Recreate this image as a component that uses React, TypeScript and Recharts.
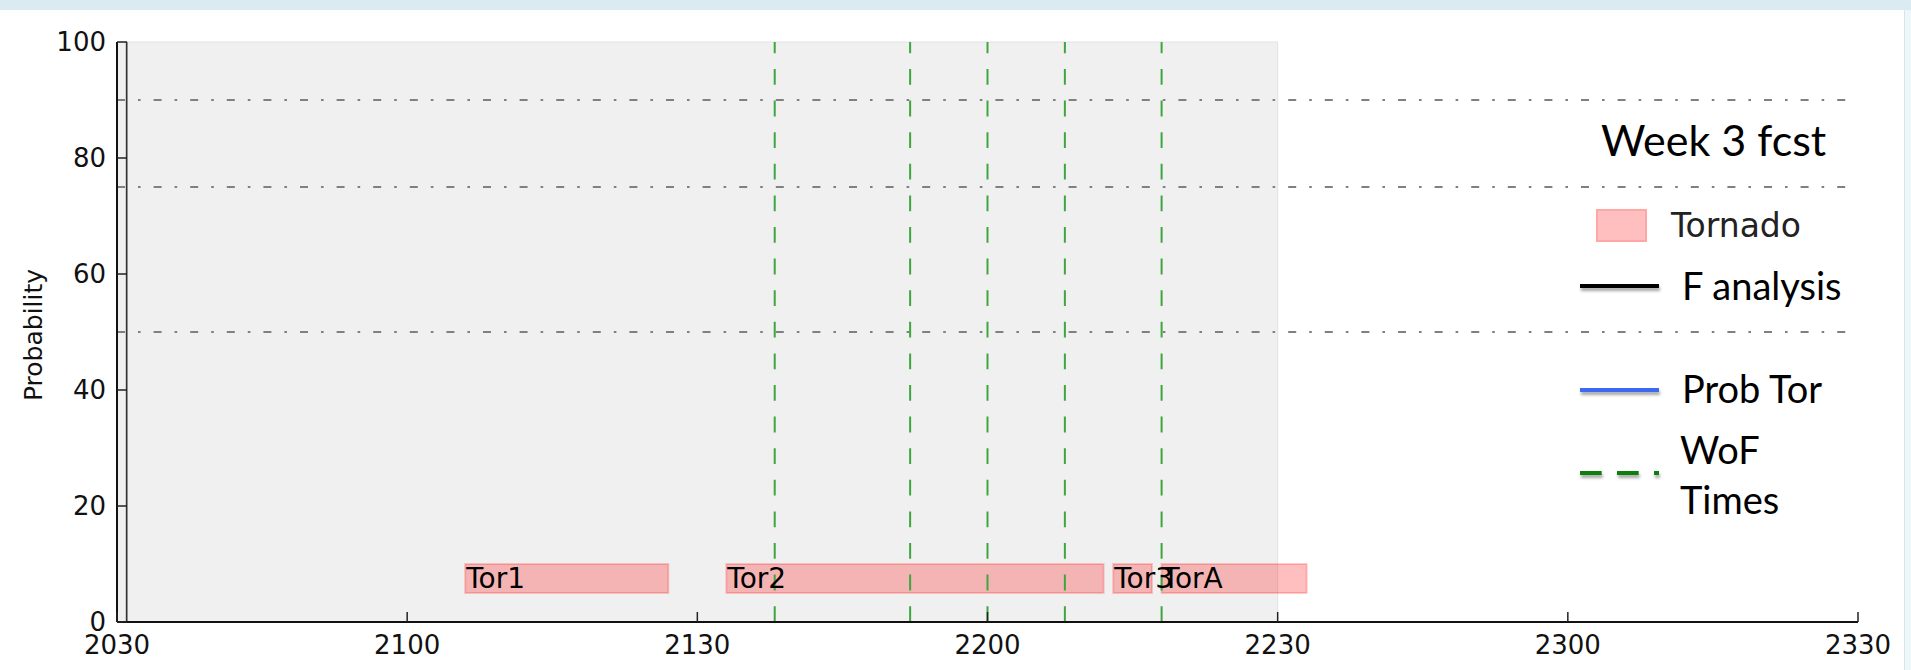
import React from 'react'
import { ComposedChart, Line, XAxis, YAxis, ReferenceArea } from 'recharts'

const W = 1911
const H = 670
const TICK_FONT = 'DejaVu Sans'
const NOTE_FONT = 'Lato'

// times are minutes after midnight (20:30 .. 23:30)
const xTicks = [1230, 1260, 1290, 1320, 1350, 1380, 1410]
const yTicks = [0, 20, 40, 60, 80, 100]
const thresholds = [50, 75, 90]
const wofTimes = [1298, 1312, 1320, 1328, 1338]
const fAnalysisTime = 1231
const shadeStart = 1230
const shadeEnd = 1350

const torNames = ['Tor1', 'Tor2', 'Tor3', 'TorA']
const torStart = [1266, 1293, 1333, 1338]
const torEnd = [1287, 1332, 1337, 1353]
const torLow = 5
const torHigh = 10

const fmt = (m: number) => `${Math.floor(m / 60)}${String(m % 60).padStart(2, '0')}`

const vLine = (t: number) => [{ t, p: 0 }, { t, p: 100 }]
const hLine = (p: number) => [{ t: xTicks[0], p }, { t: xTicks[xTicks.length - 1], p }]

const BottomTick = (props: any) => {
  const { x, y, payload } = props
  return (
    <g>
      <line x1={x} y1={y} x2={x} y2={y - 10} stroke="#222" strokeWidth={1.5} />
      <text x={x} y={y + 32} textAnchor="middle" fontSize={26} fontFamily={TICK_FONT} fill="#111">
        {fmt(payload.value)}
      </text>
    </g>
  )
}

const TopTick = (props: any) => {
  const { x, y } = props
  return <line x1={x} y1={y} x2={x} y2={y + 10} stroke="#222" strokeWidth={1.5} />
}

const LeftTick = (props: any) => {
  const { x, y, payload } = props
  return (
    <g>
      <line x1={x} y1={y} x2={x + 10} y2={y} stroke="#222" strokeWidth={1.5} />
      <text x={x - 11} y={y} dy="0.36em" textAnchor="end" fontSize={26} fontFamily={TICK_FONT} fill="#111">
        {payload.value}
      </text>
    </g>
  )
}

const RightTick = (props: any) => {
  const { x, y } = props
  return <line x1={x} y1={y} x2={x - 10} y2={y} stroke="#222" strokeWidth={1.5} />
}

const YLabel = (props: any) => {
  const vb = props.viewBox
  const cx = vb.x + 41.5
  const cy = vb.y + vb.height / 2 + 3
  return (
    <text x={cx} y={cy} transform={`rotate(-90, ${cx}, ${cy})`} textAnchor="middle" fontSize={25} fontFamily={TICK_FONT} fill="#111">
      Probability
    </text>
  )
}

const legendNames = ['Week 3 fcst', 'Tornado', 'F analysis', 'Prob Tor', 'WoF', 'Times']

function Notes() {
  return (
    <svg width={W} height={H} style={{ position: 'absolute', left: 0, top: 0, pointerEvents: 'none' }}>
      <defs>
        <filter id="sh" filterUnits="userSpaceOnUse" x={1500} y={200} width={300} height={320}>
          <feDropShadow dx={1} dy={3} stdDeviation={1.5} floodColor="#000" floodOpacity={0.35} />
        </filter>
      </defs>
      <text x={1601} y={156} fontFamily={NOTE_FONT} fontSize={43} fill="#000">{legendNames[0]}</text>
      <rect x={1597} y={210} width={49} height={31} fill="#ffbfbf" stroke="#ffa6a6" strokeWidth={2} />
      <text x={1671} y={237} fontFamily={TICK_FONT} fontSize={33} fill="#222">{legendNames[1]}</text>
      <line x1={1580} x2={1659} y1={286} y2={286} stroke="#000" strokeWidth={4} filter="url(#sh)" />
      <text x={1682} y={300} fontFamily={NOTE_FONT} fontSize={38} fill="#000">{legendNames[2]}</text>
      <line x1={1580} x2={1659} y1={390} y2={390} stroke="#3c68f2" strokeWidth={4} filter="url(#sh)" />
      <text x={1682} y={403} fontFamily={NOTE_FONT} fontSize={38} fill="#000">{legendNames[3]}</text>
      <line x1={1580} x2={1659} y1={473} y2={473} stroke="#0b7f0b" strokeWidth={4} strokeDasharray="21.7 15.3" filter="url(#sh)" />
      <text x={1680} y={464} fontFamily={NOTE_FONT} fontSize={38} fill="#000">{legendNames[4]}</text>
      <text x={1680} y={514} fontFamily={NOTE_FONT} fontSize={38} fill="#000">{legendNames[5]}</text>
    </svg>
  )
}

export default function App() {
  return (
    <div style={{ position: 'relative', width: W, height: H, background: '#fff', overflow: 'hidden' }}>
      <style>{'body{margin:0}'}</style>
      <div style={{ position: 'absolute', left: 0, top: 0, width: W, height: 10, background: '#daecf2' }} />
      <div style={{ position: 'absolute', left: 1904, top: 10, width: 7, height: H - 10, background: '#eef6f9', borderLeft: '1px solid #d4e7ee' }} />
      <ComposedChart width={W} height={H} margin={{ top: 42, right: 53, bottom: 0, left: 0 }}>
        <XAxis
          xAxisId={0}
          type="number"
          dataKey="t"
          domain={[xTicks[0], xTicks[xTicks.length - 1]]}
          ticks={xTicks}
          allowDataOverflow
          height={48}
          tickSize={0}
          tickMargin={0}
          tickLine={false}
          tick={<BottomTick />}
          axisLine={{ stroke: '#111', strokeWidth: 2 }}
        />
        <XAxis
          xAxisId="top"
          orientation="top"
          type="number"
          domain={[xTicks[0], xTicks[xTicks.length - 1]]}
          ticks={xTicks}
          allowDataOverflow
          height={0}
          tickSize={0}
          tickMargin={0}
          tickLine={false}
          tick={<TopTick />}
          axisLine={{ stroke: '#111', strokeWidth: 2 }}
        />
        <YAxis
          yAxisId={0}
          type="number"
          domain={[0, 100]}
          ticks={yTicks}
          allowDataOverflow
          width={117}
          tickSize={0}
          tickMargin={0}
          tickLine={false}
          tick={<LeftTick />}
          axisLine={{ stroke: '#111', strokeWidth: 2 }}
          label={<YLabel />}
        />
        <YAxis
          yAxisId="right"
          orientation="right"
          type="number"
          domain={[0, 100]}
          ticks={yTicks}
          allowDataOverflow
          width={0}
          tickSize={0}
          tickMargin={0}
          tickLine={false}
          tick={<RightTick />}
          axisLine={{ stroke: '#111', strokeWidth: 2 }}
        />
        <ReferenceArea x1={shadeStart} x2={shadeEnd} y1={0} y2={100} fill="#f0f0f0" fillOpacity={1} stroke="#e2e2e2" strokeWidth={1} />
        {torNames.map((name, i) => (
          <ReferenceArea
            key={name}
            x1={torStart[i]}
            x2={torEnd[i]}
            y1={torLow}
            y2={torHigh}
            fill="#ff0000"
            fillOpacity={0.25}
            stroke="#ff0000"
            strokeOpacity={0.2}
            strokeWidth={2}
          />
        ))}
        {thresholds.map((v) => (
          <Line
            key={`h${v}`}
            data={hLine(v)}
            dataKey="p"
            stroke="#808080"
            strokeWidth={2}
            strokeDasharray="8 13 2.6 13"
            dot={false}
            activeDot={false}
            isAnimationActive={false}
          />
        ))}
        <Line
          data={vLine(fAnalysisTime)}
          dataKey="p"
          stroke="#333"
          strokeWidth={1.7}
          dot={false}
          activeDot={false}
          isAnimationActive={false}
        />
        {wofTimes.map((t) => (
          <Line
            key={`w${t}`}
            data={vLine(t)}
            dataKey="p"
            stroke="#3ea63e"
            strokeWidth={2}
            strokeDasharray="15.8 15.8"
            dot={false}
            activeDot={false}
            isAnimationActive={false}
          />
        ))}
        {torNames.map((name, i) => (
          <ReferenceArea
            key={`l${name}`}
            x1={torStart[i]}
            x2={torEnd[i]}
            y1={torLow}
            y2={torHigh}
            fill="none"
            stroke="none"
            label={{ value: name, position: 'insideLeft', offset: 1, fill: '#000', fontSize: 28, fontFamily: TICK_FONT }}
          />
        ))}
      </ComposedChart>
      <Notes />
    </div>
  )
}
